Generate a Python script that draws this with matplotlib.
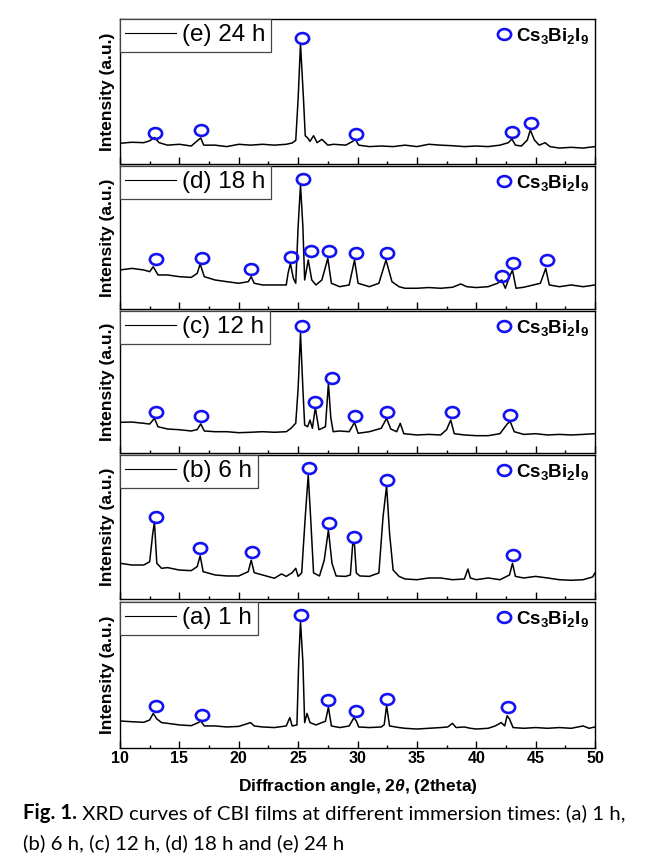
import matplotlib
matplotlib.use('Agg')
import matplotlib.pyplot as plt
from matplotlib.path import Path

# ---------------- data ----------------
a_x = [10, 11, 12, 12.5, 12.8, 13.1, 13.5, 14, 15, 16, 16.6, 16.8, 17.1, 18, 19, 20, 21.0, 21.3, 22, 23,
       24, 24.3, 24.5, 24.9, 25.05, 25.2, 25.4, 25.55, 25.75, 26.0, 26.5, 27.0, 27.3, 27.55, 27.8, 28.5,
       29.3, 29.7, 29.9, 30.1, 31, 32, 32.25, 32.45, 32.7, 33.5, 34, 35, 36, 37, 37.6, 38.0, 38.3, 39,
       39.5, 40, 41, 41.6, 42.1, 42.4, 42.6, 42.8, 43.1, 44, 45, 46, 47, 48, 49, 49.5, 50]
a_y = [18.5, 18.0, 17.6, 19.2, 23.7, 19.9, 17.4, 16.9, 15.8, 15.3, 17.4, 18.5, 15.1, 15.1, 14.4, 14.8, 17.4,
       15.1, 14.4, 14.0, 15.1, 20.8, 15.1, 15.8, 59.1, 86.5, 59.1, 17.4, 23.7, 17.4, 15.8, 17.4, 18.3, 28.0,
       15.1, 14.0, 15.1, 20.8, 18.5, 14.4, 14.0, 14.4, 16.0, 29.0, 15.1, 14.0, 13.5, 13.0, 13.5, 14.0, 14.4,
       16.9, 14.0, 14.4, 13.5, 13.0, 13.5, 15.1, 17.4, 15.1, 22.1, 19.9, 14.0, 13.5, 14.0, 13.5, 14.0, 13.5,
       15.1, 13.5, 14.4]
a_mx = [13.0, 16.9, 25.24, 27.49, 29.85, 32.51, 42.65]
a_my = [28.8, 22.6, 91.1, 32.9, 25.3, 33.6, 27.9]

b_x = [10, 11, 12, 12.5, 12.75, 12.9, 13.1, 13.5, 14, 15, 16, 16.5, 16.75, 17.0, 18, 19, 20, 20.8, 21.05,
       21.3, 22, 23, 23.6, 24, 24.5, 24.8, 25.0, 25.3, 25.6, 25.85, 26.05, 26.3, 26.8, 27.2, 27.55, 27.85,
       28.2, 29, 29.4, 29.6, 29.75, 29.9, 30.2, 31, 31.8, 32.15, 32.45, 32.7, 33.0, 33.5, 34, 35, 36, 37,
       38, 39, 39.3, 39.5, 40, 41, 42, 42.8, 43.05, 43.3, 44, 45, 46, 47, 48, 49, 49.8, 50]
b_y = [24.8, 23.6, 23.6, 25.9, 45.0, 53.5, 24.8, 21.3, 21.8, 20.1, 19.7, 22.5, 30.0, 19.0, 16.7, 16.0, 16.0,
       19.0, 27.0, 18.3, 16.7, 14.4, 17.4, 15.7, 18.3, 21.3, 15.7, 18.1, 57.0, 86.0, 57.0, 18.1, 16.0, 27.0,
       48.0, 24.8, 16.0, 15.7, 16.7, 38.7, 37.5, 18.1, 16.0, 15.7, 18.1, 57.0, 78.5, 45.6, 20.1, 15.7, 13.9,
       13.4, 14.6, 14.6, 13.4, 13.9, 20.8, 14.6, 13.4, 14.6, 13.4, 16.7, 24.8, 15.7, 14.6, 15.7, 14.6, 13.4,
       13.0, 13.4, 15.3, 18.1]
b_mx = [13.0, 16.74, 21.14, 25.92, 27.63, 29.71, 32.51, 43.07]
b_my = [57.2, 35.2, 32.4, 90.7, 52.5, 42.8, 82.6, 30.6]

c_x = [10, 11, 12, 12.5, 12.9, 13.2, 14, 15, 16, 16.5, 16.8, 17.1, 18, 19, 20, 21, 22, 23, 24, 24.4, 24.8,
       25.0, 25.2, 25.4, 25.55, 25.8, 26.0, 26.2, 26.45, 26.75, 27.3, 27.55, 27.75, 27.95, 28.5, 29.3, 29.75,
       30.05, 31, 32, 32.45, 32.8, 33.3, 33.6, 33.9, 35, 36, 37, 37.5, 37.85, 38.15, 39, 40, 41, 42, 42.6,
       42.85, 43.2, 44, 45, 46, 47, 48, 49, 50]
c_y = [21.6, 21.8, 20.9, 20.4, 24.4, 18.5, 16.9, 16.4, 15.5, 16.5, 20.5, 15.5, 15.0, 15.0, 14.3, 14.6, 15.0,
       14.6, 15.0, 17.4, 21.0, 45.5, 84.3, 45.5, 19.7, 18.5, 23.2, 17.4, 31.9, 16.4, 18.5, 49.1, 25.0, 15.0,
       15.5, 15.0, 21.6, 13.9, 15.0, 17.4, 24.4, 16.9, 15.0, 20.9, 13.6, 12.7, 13.1, 12.7, 16.4, 23.2, 13.6,
       12.7, 12.2, 12.2, 13.6, 20.4, 22.3, 15.0, 13.1, 13.6, 12.7, 13.1, 12.7, 13.1, 13.6]
c_mx = [13.05, 16.85, 25.3, 26.42, 27.83, 29.8, 32.51, 37.93, 42.84]
c_my = [28.6, 26.0, 89.7, 36.2, 52.6, 26.0, 29.1, 29.1, 26.8]

d_x = [10, 11, 12, 12.5, 12.8, 13.2, 14, 15, 16, 16.5, 16.75, 17.1, 18, 19, 20, 20.8, 21.05, 21.3, 22, 23,
       24, 24.15, 24.35, 24.6, 24.8, 25.0, 25.2, 25.4, 25.55, 25.85, 26.15, 26.5, 27.0, 27.5, 27.8, 28.5,
       29.3, 29.75, 30.05, 31, 31.8, 32.4, 32.9, 33.5, 34, 35, 36, 37, 38, 38.7, 39.2, 40, 41, 41.8, 42.15,
       42.45, 42.8, 43.05, 43.35, 44, 45.4, 45.85, 46.15, 47, 48, 49, 50]
d_y = [27.3, 28.4, 27.3, 26.1, 29.6, 23.8, 23.8, 22.6, 22.1, 24.9, 31.5, 22.6, 20.3, 19.1, 18.0, 19.1, 22.6,
       18.0, 16.8, 16.8, 16.8, 24.9, 31.9, 21.4, 18.0, 57.6, 86.7, 57.6, 20.3, 34.3, 20.3, 16.8, 20.3, 35.4,
       18.0, 15.6, 16.8, 34.3, 18.0, 15.6, 18.0, 34.3, 19.1, 15.6, 14.5, 14.5, 15.0, 14.5, 15.2, 17.5, 15.6,
       15.0, 15.6, 18.0, 20.3, 14.5, 22.6, 27.3, 14.5, 15.2, 18.0, 28.4, 16.8, 15.6, 16.8, 15.6, 16.8]
d_mx = [13.05, 16.9, 21.06, 24.37, 25.44, 26.09, 27.61, 29.87, 32.5, 42.18, 43.13, 45.96]
d_my = [34.7, 35.4, 27.7, 36.1, 90.7, 40.6, 40.6, 38.9, 38.9, 23.1, 31.9, 34.3]

e_x = [10, 11, 12, 12.5, 12.9, 13.3, 14, 15, 16, 16.8, 17.05, 18, 19, 20, 21, 22, 23, 24, 24.5, 24.8, 25.0,
       25.2, 25.45, 25.6, 25.8, 26.0, 26.3, 26.6, 27.0, 27.5, 28, 29, 29.6, 29.8, 30.1, 31, 32, 33, 34, 35,
       36, 37, 38, 39, 40, 41, 42, 42.7, 43.0, 43.3, 43.8, 44.3, 44.55, 44.9, 45.3, 45.8, 46.2, 47, 48, 49, 50]
e_y = [14.3, 15.0, 14.7, 16.0, 18.3, 14.7, 13.0, 13.6, 12.4, 18.0, 13.0, 13.0, 12.0, 13.6, 13.0, 13.6, 13.0,
       13.6, 14.5, 16.3, 45.0, 83.0, 45.0, 19.5, 18.0, 15.6, 19.5, 14.7, 17.0, 13.0, 13.6, 13.0, 15.6, 17.2,
       13.0, 12.0, 12.4, 12.0, 13.0, 12.0, 13.6, 13.0, 12.6, 12.0, 12.4, 12.0, 13.0, 14.7, 17.2, 13.0, 12.4,
       16.5, 23.4, 16.5, 13.0, 14.7, 12.0, 11.0, 11.5, 11.0, 12.0]
e_mx = [12.95, 16.8, 25.35, 29.85, 43.05, 44.6]
e_my = [21.6, 23.2, 86.7, 20.5, 21.8, 28.0]

panel_labels = ['(e) 24 h', '(d) 18 h', '(c) 12 h', '(b) 6 h', '(a) 1 h']
phase_label = r'$\mathbf{Cs_3Bi_2I_9}$'
x_major = [10, 15, 20, 25, 30, 35, 40, 45, 50]
x_minor = [12.5, 17.5, 22.5, 27.5, 32.5, 37.5, 42.5, 47.5]
y_label = 'Intensity (a.u.)'
x_label = r'Diffraction angle, 2$\theta$, (2theta)'
cap_bold = 'Fig. 1.'
cap_line1 = ' XRD curves of CBI films at different immersion times: (a) 1 h,'
cap_line2 = '(b) 6 h, (c) 12 h, (d) 18 h and (e) 24 h'

# ---------------- style ----------------
plt.rcParams['font.family'] = ['Liberation Sans', 'DejaVu Sans']
plt.rcParams['mathtext.fontset'] = 'custom'
plt.rcParams['mathtext.rm'] = 'Liberation Sans'
plt.rcParams['mathtext.bf'] = 'Liberation Sans:bold'
plt.rcParams['mathtext.it'] = 'Liberation Sans:italic:bold'

W, H = 662, 864
fig = plt.figure(figsize=(W / 100, H / 100), dpi=100)
left_px, right_px = 120, 595
bounds = [(19, 164), (166, 309), (311, 453), (455, 599), (602, 748)]
curves = [(e_x, e_y, e_mx, e_my), (d_x, d_y, d_mx, d_my), (c_x, c_y, c_mx, c_my),
          (b_x, b_y, b_mx, b_my), (a_x, a_y, a_mx, a_my)]

circ = Path.unit_circle()
ellipse = Path(circ.vertices * [1.0, 0.82], circ.codes)
blue = '#1212f2'

for i, ((top, bot), (cx, cy, mx, my), lab) in enumerate(zip(bounds, curves, panel_labels)):
    ax = fig.add_axes([left_px / W, 1 - bot / H, (right_px - left_px) / W, (bot - top) / H])
    line, = ax.plot(cx, cy, color='black', lw=1.1)
    mk, = ax.plot(mx, my, ls='none', marker=ellipse, ms=9.5, mfc='none', mec=blue, mew=1.9)
    ax.set_xlim(10, 50)
    ax.set_ylim(0, 100)
    ax.set_xticks(x_major)
    ax.set_xticks(x_minor, minor=True)
    ax.set_yticks([])
    ax.tick_params(axis='x', which='major', direction='in', length=5, width=1.0, pad=2.5)
    ax.tick_params(axis='x', which='minor', direction='in', length=2.2, width=1.0)
    for s in ax.spines.values():
        s.set_linewidth(1.0)
    if i < 4:
        ax.tick_params(axis='x', which='both', labelbottom=False)
    else:
        for t in ax.get_xticklabels():
            t.set_fontsize(11.5)
            t.set_fontweight('bold')
    ax.set_ylabel(y_label, fontsize=12.5, fontweight='bold')
    ax.yaxis.set_label_coords(-0.0105, 0.5)

    leg1 = ax.legend([line], [lab], loc='upper left', bbox_to_anchor=(0, 1), borderaxespad=0,
                     fancybox=False, edgecolor='#444444', framealpha=1, handlelength=2.1,
                     handletextpad=0.25, borderpad=0.22,
                     prop={'family': 'Liberation Sans', 'size': 17.5})
    leg1.get_frame().set_linewidth(0.9)
    leg1.get_lines()[0].set_linewidth(0.8)
    ax.add_artist(leg1)
    ax.legend([mk], [phase_label], loc='upper right', frameon=False, borderaxespad=0.05,
              borderpad=0.3, handlelength=0.8, handletextpad=0.2,
              prop={'family': 'Liberation Sans', 'weight': 'bold', 'size': 13.5})

fig.text(358 / W, 1 - 787 / H, x_label, fontsize=12.5, fontweight='bold', ha='center', va='center')

renderer = fig.canvas.get_renderer()
cap_font = ['Lato', 'DejaVu Sans']
t1 = fig.text(23 / W, 1 - 813 / H, cap_bold, fontsize=14.7, family=cap_font,
              fontweight='bold', va='center')
bb = t1.get_window_extent(renderer)
fig.text(bb.x1 / fig.bbox.width, 1 - 813 / H, cap_line1, fontsize=14.7, family=cap_font, va='center')
fig.text(23 / W, 1 - 843 / H, cap_line2, fontsize=14.7, family=cap_font, va='center')

fig.savefig('out.png', dpi=100)
